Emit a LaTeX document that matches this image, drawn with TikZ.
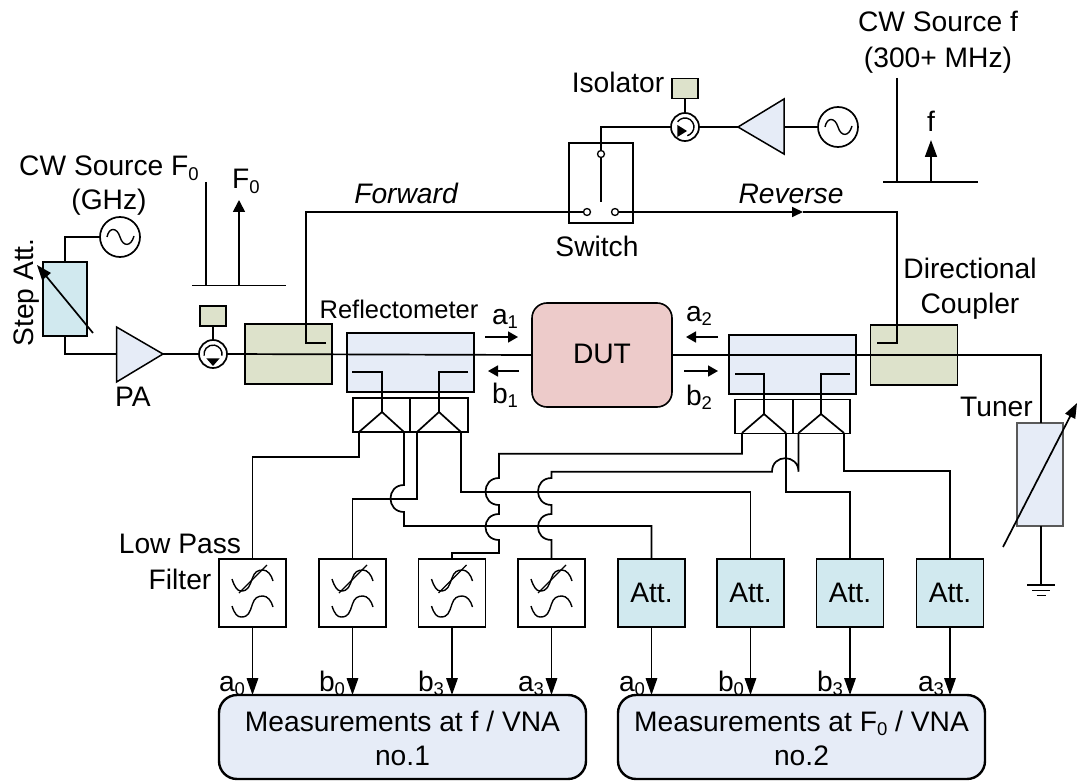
\documentclass[tikz,border=0pt]{standalone}
\usepackage{fontspec}
\setmainfont{Liberation Sans}
\usetikzlibrary{arrows.meta,calc}
\definecolor{bluefill}{HTML}{E6ECF7}
\definecolor{greenfill}{HTML}{DDE2CB}
\definecolor{attfill}{HTML}{D1E9EF}
\definecolor{dutfill}{HTML}{EDCBCA}
\newcommand\subs[1]{\raisebox{-4.5pt}{\fontsize{18.5}{18.5}\selectfont #1}}
\newcommand\sinewave{(-13,0) .. controls (-11,-10) and (-3,-10) .. (0,0) .. controls (3,10) and (11,10) .. (14,-1)}
\tikzset{
  wire/.style={line width=1.7pt,draw=black,line join=miter},
  thin wire/.style={line width=1.4pt,draw=black},
  boxn/.style={rectangle,draw=black,line width=1.6pt,inner sep=0pt,outer sep=0pt},
  lbl/.style={anchor=base,inner sep=0pt,outer sep=0pt,font=\fontsize{28.2}{33}\selectfont},
  lblsmall/.style={lbl,font=\fontsize{25.5}{30}\selectfont},
  filt/.style={boxn,fill=white,minimum width=67pt,minimum height=68pt},
  attn/.style={boxn,fill=attfill,minimum width=67pt,minimum height=68pt,lbl,anchor=center,text height=19pt,text depth=0pt},
  refl/.style={boxn,fill=bluefill,minimum width=127pt,minimum height=59pt},
  dcp/.style={boxn,fill=greenfill,minimum width=87pt,minimum height=60pt},
  term/.style={boxn,fill=bluefill},
  cellb/.style={boxn,fill=white,minimum width=57.5pt,minimum height=34pt},
  load/.style={boxn,fill=greenfill,minimum width=26pt,minimum height=20pt},
  ring/.style={circle,draw=black,line width=1.7pt,fill=white,minimum size=28pt,inner sep=0pt,outer sep=0pt},
  src/.style={circle,draw=black,line width=1.7pt,fill=white,minimum size=40pt,inner sep=0pt,outer sep=0pt},
  contact/.style={circle,draw=black,line width=1.3pt,fill=white,minimum size=7pt,inner sep=0pt,outer sep=0pt},
  meas/.style={rectangle,rounded corners=18pt,draw=black,line width=2.4pt,fill=bluefill,minimum width=367pt,minimum height=84pt,inner sep=0pt,outer sep=0pt},
  bigarrow/.style={wire,-{Triangle[length=17pt,width=11.5pt]}},
  smallarrow/.style={wire,-{Triangle[length=10pt,width=11pt]}},
  tunearrow/.style={wire,-{Triangle[length=15pt,width=11pt]}},
}
\begin{document}
\begin{tikzpicture}[x=1pt,y=-1pt]
\useasboundingbox (0,0) rectangle (1080,781);
\fill[white] (0,0) rectangle (1080,781);

% ---- filled blocks
\node[boxn,fill=attfill,minimum width=44pt,minimum height=74pt] (stepatt) at (65,299) {};
\node[dcp] (dc1) at (288.5,354) {};
\node[dcp] (dc2) at (914,355) {};
\node[refl] (rf1) at (410.5,362.5) {};
\node[refl] (rf2) at (792.5,364.5) {};
\node[boxn,fill=dutfill,rounded corners=15pt,minimum width=140pt,minimum height=104pt] (dut) at (602,355) {};
\node[boxn,fill=bluefill,draw=black!65,minimum width=46pt,minimum height=103pt] (tuner) at (1040,474.5) {};
\node[cellb] (c1) at (381.5,415) {};
\node[cellb] (c2) at (439,415) {};
\node[cellb] (c3) at (764,416.5) {};
\node[cellb] (c4) at (821.5,416.5) {};
\node[load] (l1) at (213,316) {};
\node[load] (l2) at (685,88.5) {};
\node[boxn,minimum width=64pt,minimum height=80pt] (sw) at (601,183) {};

% ---- coordinates
\coordinate (patip) at (163,354);
\coordinate (patop) at (116.5,327);
\coordinate (pabot) at (116.5,382);
\coordinate (amptip) at (738,127);
\coordinate (amptop) at (784,99);
\coordinate (ampbot) at (784,154);
\coordinate (ampin) at (784,127);
\coordinate (a1) at (382,412);
\coordinate (a2) at (439,412);
\coordinate (a3) at (764,414);
\coordinate (a4) at (821,414);
\coordinate (t1l) at (359,432);
\coordinate (t1r) at (404,432);
\coordinate (t2l) at (417,432);
\coordinate (t2r) at (461,432);
\coordinate (t3l) at (742,433);
\coordinate (t3r) at (786,433);
\coordinate (t4l) at (798.5,433);
\coordinate (t4r) at (844,433);

% ---- amplifiers
\draw[wire,line width=1.5pt,fill=bluefill] (patop) -- (patip) -- (pabot) -- cycle;
\draw[wire,line width=1.5pt,fill=bluefill] (amptip) -- (amptop) -- (ampbot) -- cycle;

% ---- sources and isolators
\node[src] (s1) at (120,237) {};
\node[src] (s2) at (838,127) {};
\node[ring] (iso1) at (213,354) {};
\node[ring] (iso2) at (685,127) {};

% ---- filters
\node[filt] (f1) at (252.5,593) {};
\node[filt] (f2) at (352.5,593) {};
\node[filt] (f3) at (452,593) {};
\node[filt] (f4) at (551.5,593) {};
\node[attn] (at1) at (651.5,593) {Att.};
\node[attn] (at2) at (750.5,593) {Att.};
\node[attn] (at3) at (850,593) {Att.};
\node[attn] (at4) at (950,593) {Att.};
\foreach \n in {f1,f2,f3,f4}{
  \begin{scope}[shift={(\n.center)}]
    \draw[thin wire] (-20.5,13) .. controls (-18,21) and (-15,24) .. (-11.5,24) .. controls (-4,24) and (-3,20) .. (0,11) .. controls (2,5) and (5,3) .. (10.5,3) .. controls (15,3) and (19,8) .. (20.5,14);
    \draw[thin wire] (-20.5,-14) .. controls (-18,-6) and (-15,-2) .. (-11.5,-2) .. controls (-4,-2) and (-3,-7) .. (0,-15) .. controls (2,-21) and (5,-23) .. (10.5,-23) .. controls (15,-23) and (19,-18) .. (20.5,-12);
    \draw[thin wire] (-13.5,0) -- (14.5,-28);
  \end{scope}
}

% ---- main through line and source wiring
\draw[wire] (s1.west) -| (stepatt.north);
\draw[wire] (stepatt.south) |- (patop |- patip);
\draw[wire] (patip) -- (iso1.west);
\draw[wire] (iso1.east) -- (dut.west);
\draw[wire] (dut.east) -- (1041,355) -- (1041,423);
\draw[wire] (1041,526) -- (1041,585);
\draw[wire] (1027,585) -- (1055,585);
\draw[wire] (1032,590.5) -- (1050,590.5);
\draw[wire] (1036.5,595.5) -- (1045.5,595.5);
\draw[wire] (l1.south) -- (iso1.north);
\draw[wire] (l2.south) -- (iso2.north);
\draw[wire] (iso2.east) -- (amptip);
\draw[wire] (ampin) -- (s2.west);

% ---- switch
\node[contact] (swt) at (601,154) {};
\node[contact] (swl) at (587,212) {};
\node[contact] (swr) at (615,212) {};
\coordinate (revtip) at (803,212);
\draw[wire] (iso2.west) -| (swt.north);
\draw[wire] (swt.south) -- (601,202);
\draw[wire] (326,343) -- (306,343) -- (306,212) -- (swl.west);
\draw[wire,-{Triangle[length=11pt,width=10pt]}] (swr.east) -- (revtip);
\draw[wire] (revtip) -- (897,212) -- (897,343) -- (877,343);

% ---- reflectometer couplers and splitters
\draw[wire] (352,372) -| (a1);
\draw[wire] (468,372) -| (a2);
\draw[wire] (735,374) -| (a3);
\draw[wire] (850,374) -| (a4);
\draw[wire] (t1l) -- (a1) -- (t1r);
\draw[wire] (t2l) -- (a2) -- (t2r);
\draw[wire] (t3l) -- (a3) -- (t3r);
\draw[wire] (t4l) -- (a4) -- (t4r);

% ---- routing with line jumps
\draw[wire] (t1l) -- (359,457) -| (f1.north);
\draw[wire] (t1r) -- (404,485) .. controls +(-18,0) and +(-18,0) .. (404,512) -- (404,526) -| (at1.north);
\draw[wire] (t2l) -- (417,498.7) -| (f2.north);
\draw[wire] (t2r) -- (461,491.7) -| (at2.north);
\draw[wire] (t3l) -- (742,453.7) -- (499,453.7) -- (499,478) .. controls +(-18,0) and +(-18,0) .. (499,505) -- (499,514) .. controls +(-18,0) and +(-18,0) .. (499,540) -- (499,553) -| (f3.north);
\draw[wire] (t4l) -- (798.5,471.7) .. controls +(0,-18) and +(0,-18) .. (772,471.7) -- (551.5,471.7) -- (551.5,478) .. controls +(-18,0) and +(-18,0) .. (551.5,505) -- (551.5,514) .. controls +(-18,0) and +(-18,0) .. (551.5,540) -- (f4.north);
\draw[wire] (t3r) -- (786,491.7) -| (at3.north);
\draw[wire] (t4r) -- (844,471.3) -| (at4.north);

% ---- source glyphs and isolator glyphs
\foreach \n in {s1,s2}{
  \begin{scope}[shift={(\n.center)}]
    \draw[thin wire] \sinewave;
  \end{scope}
}
\begin{scope}[shift={(iso1.center)}]
  \draw[thin wire] (8.9,1.6) arc[start angle=-10,end angle=190,radius=9pt];
  \fill (-6.7,4.3) -- (6.7,4.3) -- (0,12) -- cycle;
\end{scope}
\begin{scope}[shift={(iso2.center)}]
  \draw[thin wire] (-7.4,-5.2) arc[start angle=145,end angle=-75,radius=9pt];
  \fill (-7.6,-2) -- (-7.6,10) -- (2,4) -- cycle;
\end{scope}

% ---- variable arrows
\coordinate (sa1) at (93,333);
\coordinate (sa2) at (37,265);
\draw[tunearrow] (sa1) -- (sa2);
\coordinate (ta1) at (1003,547);
\coordinate (ta2) at (1077,403);
\draw[tunearrow] (ta1) -- (ta2);

% ---- spectra
\draw[wire] (206,182) -- (206,285.5);
\draw[wire] (192,285.5) -- (286,285.5);
\draw[wire,-{Triangle[length=12pt,width=12pt]}] (239,285.5) -- (239,200);
\draw[wire] (897,78) -- (897,182);
\draw[wire] (883,182) -- (978,182);
\draw[wire,-{Triangle[length=17pt,width=12pt]}] (931,182) -- (931,140);

% ---- wave arrows
\draw[smallarrow] (485,337) -- (518,337);
\draw[smallarrow] (519,371) -- (488,371);
\draw[smallarrow] (718,337) -- (686,337);
\draw[smallarrow] (684,371) -- (718,371);

% ---- measurement boxes and arrows
\node[meas] (m1) at (402.5,737) {};
\node[meas] (m2) at (801.5,737) {};
\foreach \n in {f1,f2,f3,f4}{ \draw[bigarrow] (\n.south) -- (\n.south |- m1.north); }
\foreach \n in {at1,at2,at3,at4}{ \draw[bigarrow] (\n.south) -- (\n.south |- m2.north); }

% ---- labels
\node[lbl] (t1) at (109,176) {CW Source F\subs{0}};
\node[lbl] (t2) at (109,210) {(GHz)};
\node[lbl] (t3) at (246,189) {F\subs{0}};
\node[lbl,rotate=90] (t4) at (33,292.5) {Step Att.};
\node[lbl] (t5) at (133,406) {PA};
\node[lblsmall] (t6) at (399,318) {Reflectometer};
\node[lbl,anchor=base west] (t7) at (492,324) {a\subs{1}};
\node[lbl,anchor=base west] (t8) at (492,403) {b\subs{1}};
\node[lbl,anchor=base west] (t9) at (686,321) {a\subs{2}};
\node[lbl,anchor=base west] (t10) at (686,405) {b\subs{2}};
\node[lbl] (t11) at (602,363) {DUT};
\node[lbl] (t12) at (996.5,416) {Tuner};
\node[lbl] (t13) at (970,278) {Directional};
\node[lbl] (t14) at (970,313) {Coupler};
\node[lbl] (t15) at (938,32) {CW Source f};
\node[lbl] (t16) at (938,68) {(300+ MHz)};
\node[lbl] (t17) at (931,132) {f};
\node[lbl] (t18) at (618,93) {Isolator};
\node[lbl] (t19) at (597,256) {Switch};
\node[lbl,font=\fontsize{28.2}{33}\selectfont\itshape] (t20) at (406,204) {Forward};
\node[lbl,font=\fontsize{28.2}{33}\selectfont\itshape] (t21) at (791,204) {Reverse};
\node[lbl] (t22) at (180,553) {Low Pass};
\node[lbl] (t23) at (180,589) {Filter};
\node[lbl,anchor=base west] (t24) at (219,691) {a\subs{0}};
\node[lbl,anchor=base west] (t25) at (319,691) {b\subs{0}};
\node[lbl,anchor=base west] (t26) at (418,691) {b\subs{3}};
\node[lbl,anchor=base west] (t27) at (518,691) {a\subs{3}};
\node[lbl,anchor=base west] (t28) at (619,691) {a\subs{0}};
\node[lbl,anchor=base west] (t29) at (718,691) {b\subs{0}};
\node[lbl,anchor=base west] (t30) at (817,691) {b\subs{3}};
\node[lbl,anchor=base west] (t31) at (918,691) {a\subs{3}};
\node[lbl] (t32) at (402.5,731) {Measurements at f / VNA};
\node[lbl] (t33) at (402.5,765) {no.1};
\node[lbl] (t34) at (801.5,731) {Measurements at F\subs{0} / VNA};
\node[lbl] (t35) at (801.5,765) {no.2};
\end{tikzpicture}
\end{document}
